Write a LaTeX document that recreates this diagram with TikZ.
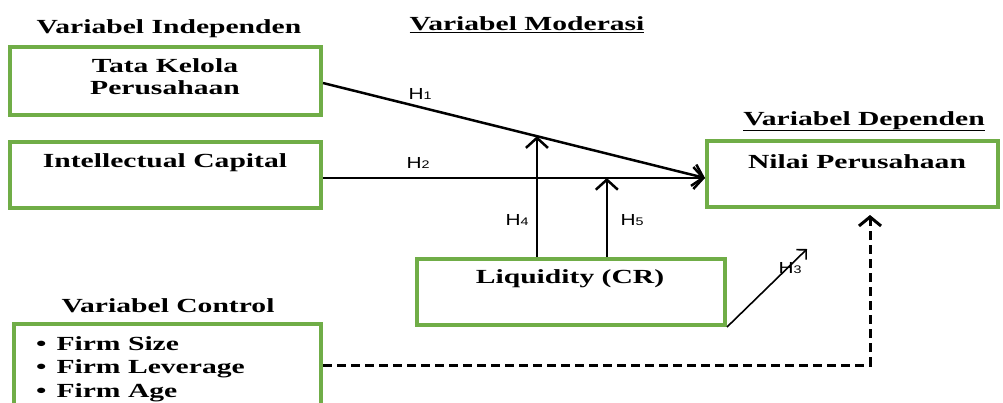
\documentclass[tikz,border=0pt]{standalone}
\usepackage{fontspec}
\setmainfont[FakeStretch=1.48]{Liberation Serif}
\newfontfamily\hfont[FakeStretch=1.3]{Liberation Sans}
\usetikzlibrary{arrows.meta}
\usetikzlibrary{positioning}
\definecolor{hijau}{RGB}{112,173,71}

\begin{document}
\begin{tikzpicture}[x=1pt, y=-1pt,
    kotak/.style={draw=hijau, line width=4pt, minimum width=311pt, minimum height=66pt},
    teks/.style={font=\bfseries\fontsize{20}{22}\selectfont, align=center, inner sep=0pt, anchor=base},
    hlabel/.style={font=\hfont\fontsize{16}{16}\selectfont, inner sep=0pt, anchor=base},
    panah/.style={line width=2.5pt, -{Straight Barb[length=10pt,width=22pt]}}]
  \useasboundingbox (0,0) rectangle (1003,402);
  \clip (0,0) rectangle (1003,402);

  % judul
  \node[teks] (indep) at (169,33) {Variabel Independen};
  \node[teks] (moder) at (527,30) {\underline{Variabel Moderasi}};
  \node[teks] (depen) at (864,125) {\underline{Variabel Dependen}};
  \node[teks] (kontrol) at (168,312) {Variabel Control};

  % kotak
  \node[kotak, minimum height=68pt] (tk) at (165.5,81) {};
  \node[kotak] (ic) at (165.5,175) {};
  \node[kotak, minimum width=291pt] (nilai) at (852.5,174) {};
  \node[kotak, minimum width=308pt] (liq) at (571,292) {};
  \node[kotak, minimum width=307pt, minimum height=82pt] (ctrl) at (167.5,365) {};

  % isi kotak
  \node[teks, anchor=north] (tktext) at (165,58.5) {Tata Kelola\\Perusahaan};
  \node[teks] (ictext) at (165,167) {Intellectual Capital};
  \node[teks] (nilaitext) at (857,168) {Nilai Perusahaan};
  \node[teks] (liqtext) at (570,283) {Liquidity (CR)};
  \foreach \nama/\yy [count=\i] in {Firm Size/350, Firm Leverage/373, Firm Age/397}
    \node[teks, anchor=base west] (firm\i) at (36,\yy) {\textbullet\hspace{10pt}\nama};

  % hipotesis
  \coordinate (masuk) at ([yshift=-4pt]nilai.west);
  \draw[panah] ([yshift=-2pt]tk.east) -- (masuk) coordinate[pos=0.56] (m1);
  \draw[panah] ([yshift=-3pt]ic.east) -- (masuk) coordinate[pos=0.743] (m2);
  \draw[panah] (m1 |- liq.north) -- (m1);
  \draw[panah] (m2 |- liq.north) -- (m2);
  \coordinate (h3ujung) at (807,249);
  \draw[line width=1.6pt, -{Straight Barb[length=7pt,width=14pt]}] (liq.south east) -- (h3ujung);

  % kontrol
  \draw[line width=3pt, dash pattern=on 9pt off 5pt, -{Straight Barb[length=9pt,width=22pt]}]
    (ctrl.east) -| ([xshift=17.5pt, yshift=-6pt]nilai.south);

  % label H
  \foreach \n/\xx/\yy in {1/420/99, 2/418/168, 3/790/273, 4/517/225, 5/632/225}
    \node[hlabel] (h\n) at (\xx,\yy) {H{\fontsize{11}{11}\selectfont\n}};
\end{tikzpicture}
\end{document}
